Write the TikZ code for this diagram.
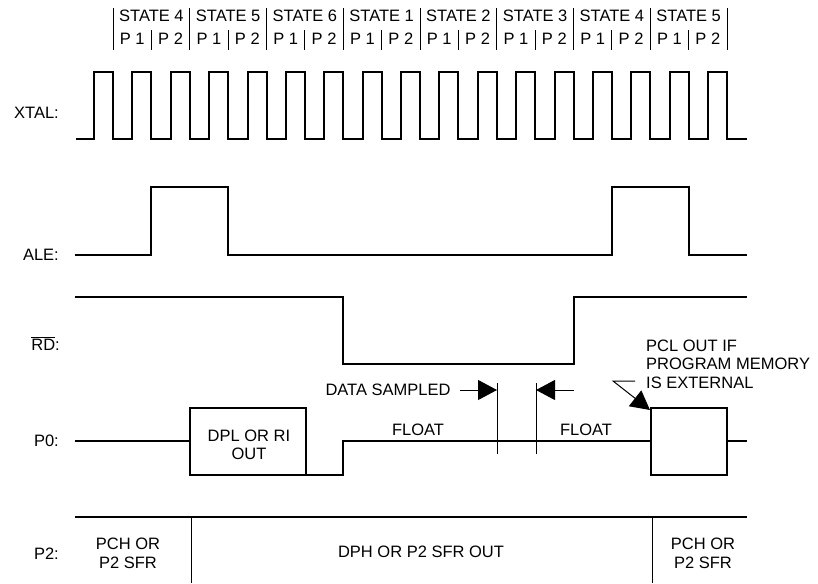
\documentclass[tikz,border=0pt]{standalone}
\usepackage{fontspec}
\setmainfont{Liberation Sans}
\usetikzlibrary{arrows.meta}
\begin{document}
\begin{tikzpicture}[x=1pt,y=-1pt,
  wave/.style={line width=2pt, line join=miter, line cap=butt},
  thinline/.style={line width=1pt},
  txt/.style={font=\fontsize{16.5}{19}\selectfont, inner sep=0pt, align=center},
  bigtip/.style={-{Triangle[length=19pt,width=20pt]}}]
\useasboundingbox (0,0) rectangle (818,583);

% ---------- header ----------
\foreach \k/\s in {0/4,1/5,2/6,3/1,4/2,5/3,6/4,7/5}{
  \node[txt, anchor=base] (st\k) at ({113+76.75*\k+38.375},22) {STATE \s};
  \node[txt, anchor=base] (pa\k) at ({113+76.75*\k+19.2},45) {P 1};
  \node[txt, anchor=base] (pb\k) at ({113+76.75*\k+57.6},45) {P 2};
  \draw[thinline] ({113+76.75*\k+38.375},30) -- ({113+76.75*\k+38.375},50);
}
\foreach \k in {0,...,8}{
  \draw[thinline] ({113+76.75*\k},8) -- ({113+76.75*\k},50);
}

% ---------- signal labels ----------
\node[txt, anchor=base east] (lx) at (59,118) {XTAL:};
\node[txt, anchor=base east] (la) at (59,260) {ALE:};
\node[txt, anchor=base east] (lr) at (60,350) {$\overline{\hbox{RD}}$:};
\node[txt, anchor=base east] (lp0) at (59,446) {P0:};
\node[txt, anchor=base east] (lp2) at (59,559) {P2:};

% ---------- XTAL ----------
\draw[wave] (76,139)
  \foreach \k in {0,...,16}{
    -- ({113+38.375*\k-19},139) -- ({113+38.375*\k-19},72)
    -- ({113+38.375*\k},72) -- ({113+38.375*\k},139)
  } -- (747,139);

% ---------- ALE ----------
\draw[wave] (75,255) -- (151.4,255) -- (151.4,187) -- (228.1,187) -- (228.1,255)
  -- (611.9,255) -- (611.9,187) -- (688.6,187) -- (688.6,255) -- (747,255);

% ---------- RD ----------
\draw[wave] (75,297) -- (343.25,297) -- (343.25,364) -- (573.5,364) -- (573.5,297) -- (747,297);

% ---------- P0 ----------
\draw[wave] (75,441) -- (190,441);
\draw[wave] (190,408) rectangle (305.5,475);
\node[txt, font=\fontsize{16.5}{18}\selectfont] (dpl) at (249,445) {DPL OR RI\\OUT};
\draw[wave] (305.5,475) -- (343.25,475) -- (343.25,441) -- (650.5,441);
\draw[wave] (650.5,408) rectangle (727,475);
\draw[wave] (727,441) -- (747,441);

\node[txt, anchor=base] (fl1) at (418,435) {FLOAT};
\node[txt, anchor=base] (fl2) at (586,435) {FLOAT};

% data sampled
\node[txt, anchor=base] (ds) at (388,395) {DATA SAMPLED};
\coordinate (dsa) at (460,390);
\coordinate (dsb) at (497,390);
\coordinate (dsc) at (536,390);
\coordinate (dsd) at (574,390);
\draw[thinline] (497,383) -- (497,454);
\draw[thinline] (536,383) -- (536,454);
\draw[thinline, bigtip] (dsa) -- (dsb);
\draw[thinline, bigtip] (dsd) -- (dsc);

% PCL annotation
\node[txt, anchor=base west] (pc1) at (646,351) {PCL OUT IF};
\node[txt, anchor=base west] (pc2) at (646,369.5) {PROGRAM MEMORY};
\node[txt, anchor=base west] (pc3) at (646,388) {IS EXTERNAL};
\coordinate (lda) at (635,381);
\coordinate (ldb) at (613,381);
\coordinate (ldc) at (650,410);
\draw[thinline, bigtip] (lda) -- (ldb) -- (ldc);

% ---------- P2 ----------
\draw[wave] (75,517) -- (747,517);
\draw[thinline] (191,517) -- (191,583);
\draw[thinline] (652,517) -- (652,583);
\node[txt] (p2a) at (128,553) {PCH OR\\P2 SFR};
\node[txt] (p2b) at (421,552) {DPH OR P2 SFR OUT};
\node[txt] (p2c) at (703,553) {PCH OR\\P2 SFR};
\end{tikzpicture}
\end{document}
